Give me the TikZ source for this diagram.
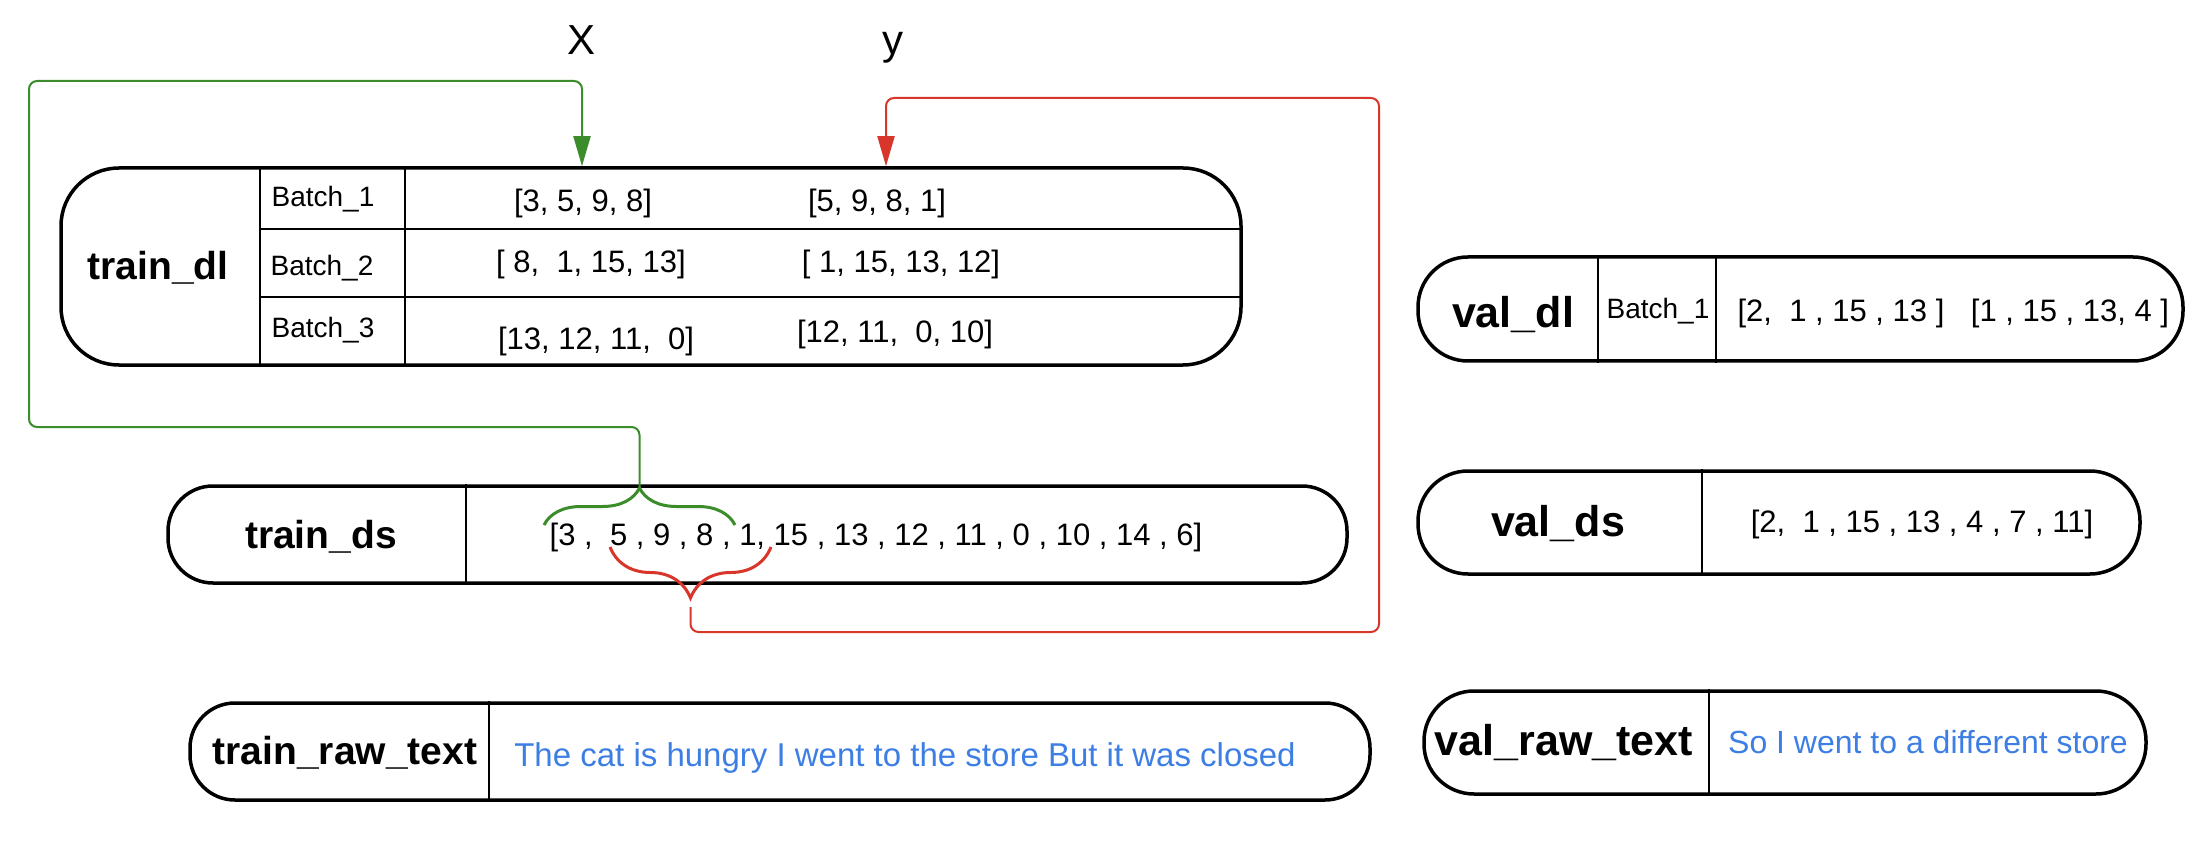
\documentclass[tikz,border=0pt]{standalone}
\usepackage{fontspec}
\setmainfont{Liberation Sans}
\usepackage{tikz}
\usetikzlibrary{arrows.meta}
\usetikzlibrary{decorations.pathreplacing}
\definecolor{xgreen}{HTML}{3B8C2A}
\definecolor{yred}{HTML}{D8362A}
\definecolor{rawblue}{HTML}{3C7EE3}

\begin{document}
\begin{tikzpicture}[x=1pt, y=-1pt]
    \tikzstyle pill=[draw, line width=3.5pt, rounded corners=58pt, inner sep=0pt]
    \tikzstyle divider=[line width=2.5pt]
    \tikzstyle setname=[font=\fontsize{39}{45}\selectfont\bfseries]
    \tikzstyle valname=[font=\fontsize{43}{48}\selectfont\bfseries]
    \tikzstyle batch=[font=\fontsize{28}{32}\selectfont]
    \tikzstyle seq=[font=\fontsize{31}{36}\selectfont]
    \tikzstyle rawtext=[font=\fontsize{33}{38}\selectfont, text=rawblue]
    \tikzstyle axisname=[font=\fontsize{42}{48}\selectfont, anchor=base]
    \tikzstyle xlink=[line width=2pt, xgreen, rounded corners=8pt]
    \tikzstyle ylink=[line width=2pt, yred, rounded corners=8pt]
    \tikzstyle pick=[line width=3pt, decorate]
    \useasboundingbox (0,0) rectangle (2212,842);

    \node[axisname] (xname) at (582,55) {X};
    \node[axisname] (yname) at (893,55) {y};

    \node[pill, minimum width=1180pt, minimum height=197pt] (traindl) at (651,266.5) {};
    \draw[divider] (traindl.north -| 260,0) -- (traindl.south -| 260,0);
    \draw[divider] (traindl.north -| 405,0) -- (traindl.south -| 405,0);
    \draw[divider] (260,229) -- (traindl.east |- 0,229);
    \draw[divider] (260,297) -- (traindl.east |- 0,297);
    \node[setname] (traindlname) at (158,268) {train\_dl};
    \node[batch] (trainbatch1) at (323,199) {Batch\_1};
    \node[batch] (trainbatch2) at (322,268) {Batch\_2};
    \node[batch] (trainbatch3) at (323,330) {Batch\_3};
    \node[seq] (xone) at (583,203) {[3, 5, 9, 8]};
    \node[seq] (yone) at (877,203) {[5, 9, 8, 1]};
    \node[seq] (xtwo) at (591,264) {[ 8,\ \ 1, 15, 13]};
    \node[seq] (ytwo) at (901,264) {[ 1, 15, 13, 12]};
    \node[seq] (xthree) at (596,341) {[13, 12, 11,\ \ 0]};
    \node[seq] (ythree) at (895,334) {[12, 11,\ \ 0, 10]};

    \node[pill, rounded corners=45pt, minimum width=1179pt, minimum height=97pt] (trainds) at (757.5,534.5) {};
    \draw[divider] (trainds.north -| 466,0) -- (trainds.south -| 466,0);
    \node[setname] (traindsname) at (321,537) {train\_ds};
    \node[seq] (traindsseq) at (876,537) {[3 ,\ \ 5 , 9 , 8 , 1, 15 , 13 , 12 , 11 , 0 , 10 , 14 , 6]};

    \node[pill, rounded corners=45pt, minimum width=1180pt, minimum height=97pt] (trainraw) at (780,751.5) {};
    \draw[divider] (trainraw.north -| 489,0) -- (trainraw.south -| 489,0);
    \node[setname] (trainrawname) at (345,753) {train\_raw\_text};
    \node[rawtext] (trainrawtext) at (905,758) {The cat is hungry I went to the store But it was closed};

    \node[pill, rounded corners=50pt, minimum width=765pt, minimum height=104pt] (valdl) at (1800.5,309) {};
    \draw[divider] (valdl.north -| 1598,0) -- (valdl.south -| 1598,0);
    \draw[divider] (valdl.north -| 1716,0) -- (valdl.south -| 1716,0);
    \node[valname] (valdlname) at (1513,315) {val\_dl};
    \node[batch] (valbatch1) at (1658,311) {Batch\_1};
    \node[seq] (valx) at (1841,313) {[2,\ \ 1 , 15 , 13 ]};
    \node[seq] (valy) at (2070,313) {[1 , 15 , 13, 4 ]};

    \node[pill, rounded corners=50pt, minimum width=722pt, minimum height=103pt] (valds) at (1779,522.5) {};
    \draw[divider] (valds.north -| 1702,0) -- (valds.south -| 1702,0);
    \node[valname] (valdsname) at (1558,524) {val\_ds};
    \node[seq] (valdsseq) at (1922,524) {[2,\ \ 1 , 15 , 13 , 4 , 7 , 11]};

    \node[pill, rounded corners=50pt, minimum width=722pt, minimum height=103pt] (valraw) at (1785,742.5) {};
    \draw[divider] (valraw.north -| 1709,0) -- (valraw.south -| 1709,0);
    \node[valname] (valrawname) at (1564,743) {val\_raw\_text};
    \node[rawtext, font=\fontsize{32}{37}\selectfont] (valrawtext) at (1928,742) {So I went to a different store};

    \draw[pick, xgreen, decoration={brace, amplitude=37pt}] (544,525) -- (735,525);
    \draw[pick, yred, decoration={brace, amplitude=51pt}] (771,547) -- (610,547);
    \coordinate (xtip) at (639.5,488);
    \coordinate (ytip) at (690.5,598);

    \draw[xlink, -{Triangle[length=30pt, width=17pt]}] (xtip) -- (639.5,427) -- (29,427) -- (29,81) -- (582,81) -- (traindl.north -| 582,0);
    \draw[ylink, shorten <=9pt, -{Triangle[length=30pt, width=17pt]}] (ytip) -- (690.5,632) -- (1379,632) -- (1379,98) -- (886,98) -- (traindl.north -| 886,0);
\end{tikzpicture}
\end{document}
